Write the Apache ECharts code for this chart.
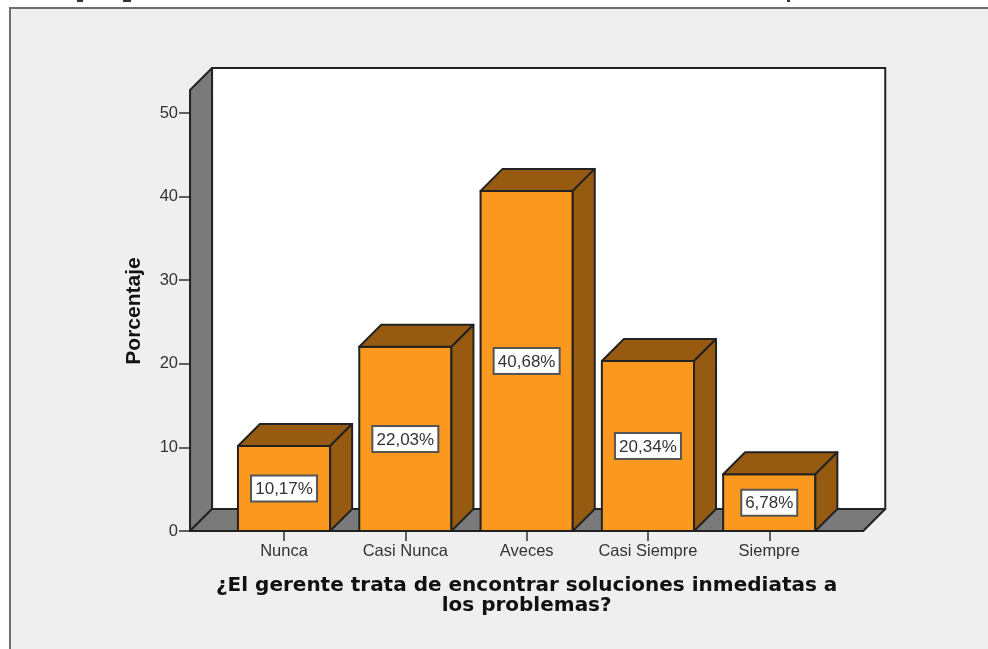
<!DOCTYPE html>
<html><head><meta charset="utf-8">
<style>html,body{margin:0;padding:0;background:#fff}#c{width:988px;height:649px}</style>
<script src="https://cdn.jsdelivr.net/npm/echarts@6/dist/echarts.min.js"></script></head>
<body><div id="c"></div>
<script>
const categories = ['Nunca','Casi Nunca','Aveces','Casi Siempre','Siempre'];
const values = [10.17,22.03,40.68,20.34,6.78];
const valueLabels = ['10,17%','22,03%','40,68%','20,34%','6,78%'];
const xTitle = '¿El gerente trata de encontrar soluciones inmediatas a\nlos problemas?';
const yTitle = 'Porcentaje';
const wallTop = 52.75;

const D = 22, LINE = '#222222', BW = 2;
const chart = echarts.init(document.getElementById('c'), null, {renderer:'canvas'});
const lineStyle = {stroke:LINE, lineWidth:BW, lineJoin:'round'};
function poly(points, fill, z){
  return {type:'polygon', shape:{points}, z2:z||0, style:Object.assign({fill}, lineStyle)};
}
chart.setOption({
  backgroundColor:'#ffffff',
  animation:false,
  graphic:[
    {type:'rect', z:-10, shape:{x:10,y:8,width:1000,height:700},
     style:{fill:'#efefef',stroke:'#6e6e6e',lineWidth:2}},
    {type:'rect', z:-10, shape:{x:77,y:0,width:6,height:2}, style:{fill:'#333'}},
    {type:'rect', z:-10, shape:{x:123,y:0,width:8,height:2}, style:{fill:'#333'}},
    {type:'rect', z:-10, shape:{x:787,y:0,width:3,height:2}, style:{fill:'#333'}}
  ],
  grid:{left:223.4,width:606.5,top:113,height:418,containLabel:false},
  xAxis:{type:'category',data:categories,z:1,
    axisLine:{show:false},
    axisTick:{show:true,alignWithLabel:true,length:10,lineStyle:{color:'#333',width:1.5}},
    axisLabel:{color:'#333',fontFamily:'Liberation Sans',fontSize:16.5,margin:12,interval:0},
    name:xTitle,nameLocation:'middle',nameGap:45,
    nameTextStyle:{color:'#111',fontFamily:'DejaVu Sans',fontWeight:'bold',fontSize:20,lineHeight:20}
  },
  yAxis:{type:'value',min:0,max:50,interval:10,offset:33.4,z:1,
    splitLine:{show:false},
    axisLine:{show:false},
    axisTick:{show:true,length:11,lineStyle:{color:'#333',width:1.5}},
    axisLabel:{color:'#333',fontFamily:'Liberation Sans',fontSize:16.5,margin:12,padding:[3,0,0,0]},
    name:yTitle,nameLocation:'middle',nameGap:45,nameRotate:90,
    nameTextStyle:{color:'#111',fontFamily:'Liberation Sans',fontWeight:'bold',fontSize:21,padding:[0,0,0,22]}
  },
  series:[
    {type:'custom',coordinateSystem:'cartesian2d',clip:false,z:2,silent:true,
     data:[[0,0]],
     renderItem(p,api){
       const o=api.coord([0,0]), band=api.size([1,0])[0];
       const L=o[0]-band*0.775, R=o[0]+band*4.775, B=o[1];
       const T=api.coord([0,wallTop])[1];
       return {type:'group',children:[
         poly([[L+D,T-D],[R+D,T-D],[R+D,B-D],[L+D,B-D]],'#ffffff'),
         poly([[L,T],[L+D,T-D],[L+D,B-D],[L,B]],'#7a7a7a'),
         poly([[L,B],[L+D,B-D],[R+D,B-D],[R,B]],'#7a7a7a')
       ]};
     }},
    {type:'custom',coordinateSystem:'cartesian2d',clip:false,z:3,silent:true,
     encode:{x:0,y:1},
     data:values.map((v,i)=>[i,v]),
     renderItem(p,api){
       const i=api.value(0), v=api.value(1);
       const top=api.coord([i,v]), base=api.coord([i,0]);
       const w=api.size([1,0])[0]*0.76, x0=top[0]-w/2, x1=top[0]+w/2, yt=top[1], yb=base[1];
       const lw=valueLabels[i].length>5?66:56;
       return {type:'group',children:[
         poly([[x0,yt],[x1,yt],[x1,yb],[x0,yb]],'#fb981e'),
         poly([[x0,yt],[x0+D,yt-D],[x1+D,yt-D],[x1,yt]],'#965b11'),
         poly([[x1,yt],[x1+D,yt-D],[x1+D,yb-D],[x1,yb]],'#965b11'),
         {type:'rect',shape:{x:top[0]-lw/2,y:(yt+yb)/2-13,width:lw,height:26},
          z2:5,style:{fill:'#fff',stroke:'#555',lineWidth:2}},
         {type:'text',z2:6,x:top[0],y:(yt+yb)/2+1,
          style:{text:valueLabels[i],fill:'#333',align:'center',verticalAlign:'middle',
                 fontFamily:'Liberation Sans',fontSize:17}}
       ]};
     }}
  ]
});
</script></body></html>
